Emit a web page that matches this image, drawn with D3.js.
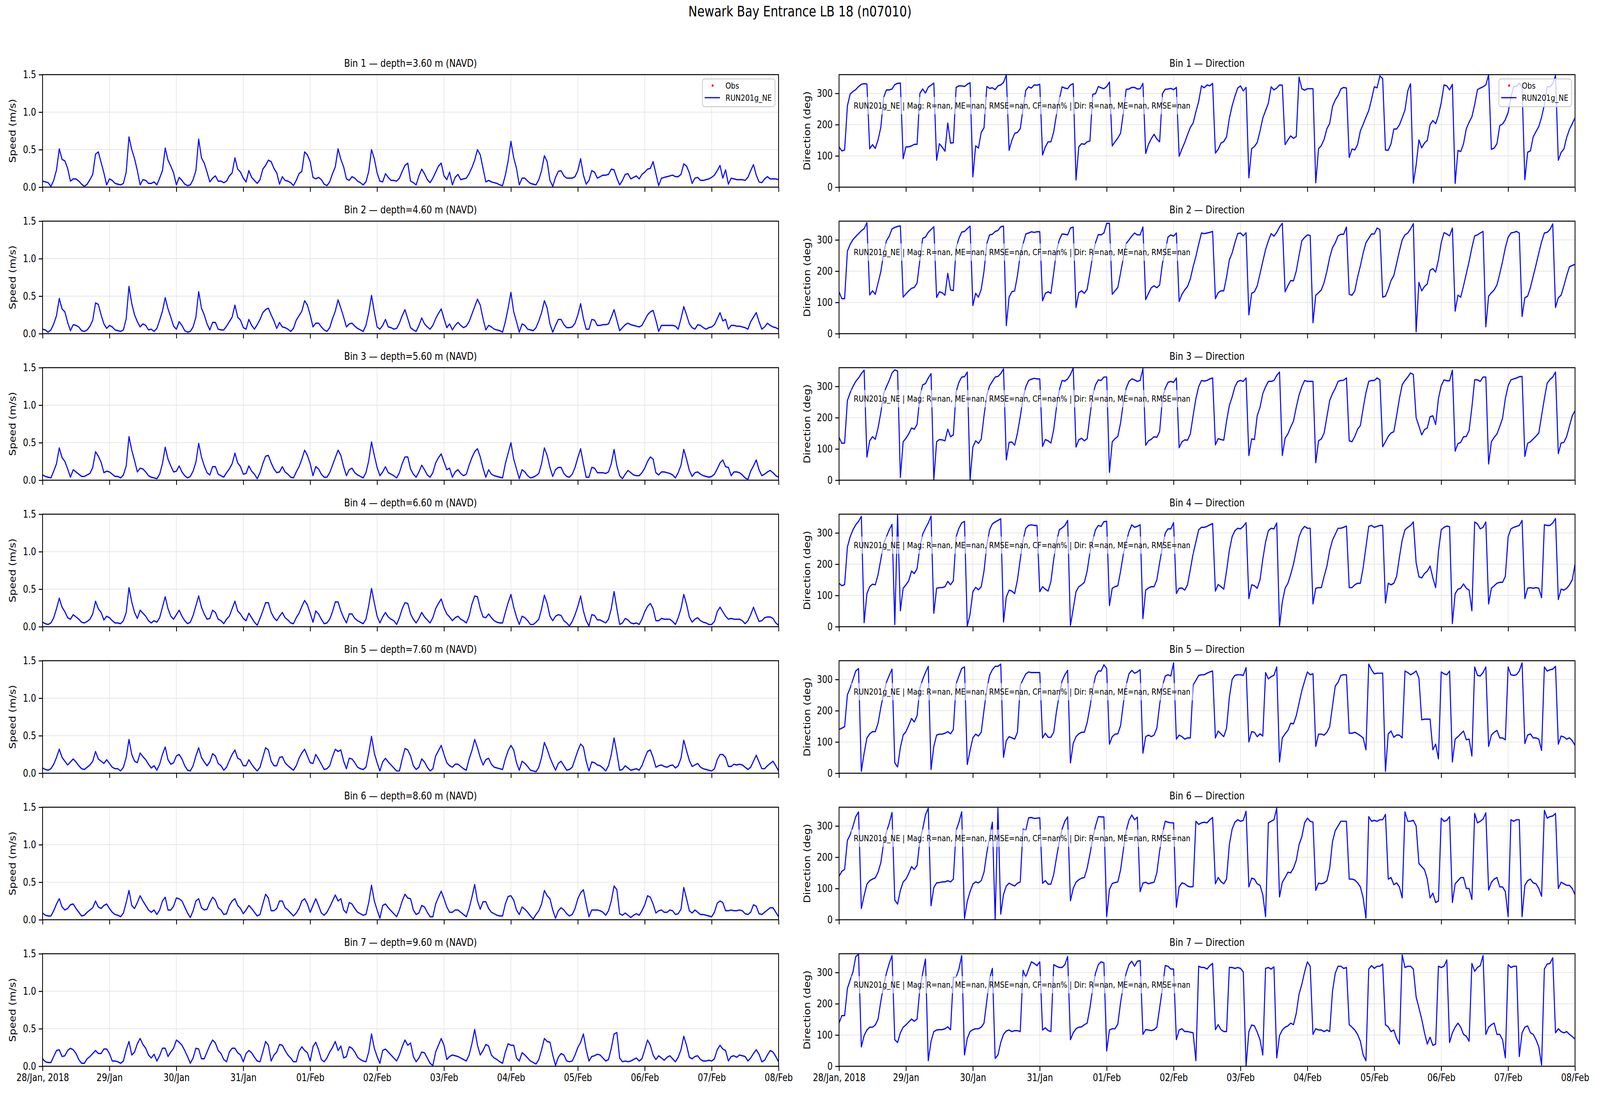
<!DOCTYPE html>
<html lang="en">
<head>
  <meta charset="UTF-8">
  <title>Newark Bay Entrance LB 18 (n07010)</title>
  <style>
    html, body { margin: 0; padding: 0; overflow: hidden; background: #fff; }
    svg { display: block; width: 100vw; height: 100vh; font-family: "DejaVu Sans", sans-serif; }
  </style>
</head>
<body>
  <script src="https://d3js.org/d3.v7.min.js"></script>
  <script>
    const width = 5000, height = 2800;
    const start = Date.UTC(2018, 0, 28);
    const hour = 3600 * 1000;

    const stationTitle = "Newark Bay Entrance LB 18 (n07010)";
    const modelName = "RUN201g_NE";
    const statsText = "RUN201g_NE | Mag: R=nan, ME=nan, RMSE=nan, CF=nan% | Dir: R=nan, ME=nan, RMSE=nan";
    const depths = ["3.60", "4.60", "5.60", "6.60", "7.60", "8.60", "9.60"];
    const dayLabels = ["28/Jan, 2018", "29/Jan", "30/Jan", "31/Jan", "01/Feb", "02/Feb",
                       "03/Feb", "04/Feb", "05/Feb", "06/Feb", "07/Feb", "08/Feb"];
    const speedTicks = [0, 0.5, 1.0, 1.5];
    const dirTicks = [0, 100, 200, 300];

    // hourly model speed (m/s), one line per day, from 28/Jan 00:00
    const spd1 = [
      0.08,0.07,0.06,0.01,0.09,0.23,0.51,0.37,0.35,0.25,0.08,0.11,0.11,0.08,0.04,0.01,0.04,0.10,0.17,0.44,0.47,0.33,0.19,0.03,
      0.11,0.09,0.05,0.04,0.03,0.05,0.20,0.67,0.50,0.38,0.22,0.03,0.10,0.09,0.05,0.05,0.07,0.03,0.12,0.22,0.52,0.36,0.28,0.19,
      0.03,0.13,0.09,0.04,0.02,0.03,0.10,0.22,0.64,0.39,0.32,0.20,0.07,0.12,0.15,0.08,0.08,0.06,0.08,0.15,0.19,0.39,0.24,0.20,
      0.12,0.07,0.22,0.13,0.09,0.05,0.10,0.24,0.29,0.36,0.34,0.25,0.19,0.04,0.14,0.09,0.08,0.06,0.02,0.09,0.18,0.21,0.47,0.43,
      0.34,0.13,0.11,0.13,0.10,0.04,0.02,0.07,0.18,0.27,0.51,0.37,0.27,0.11,0.09,0.14,0.12,0.08,0.06,0.03,0.07,0.21,0.50,0.38,
      0.19,0.08,0.07,0.18,0.13,0.09,0.09,0.08,0.12,0.21,0.29,0.32,0.08,0.06,0.03,0.15,0.24,0.18,0.10,0.06,0.12,0.20,0.28,0.32,
      0.15,0.10,0.20,0.03,0.13,0.17,0.10,0.11,0.12,0.18,0.26,0.36,0.50,0.43,0.25,0.07,0.09,0.07,0.06,0.05,0.03,0.02,0.16,0.35,
      0.61,0.39,0.25,0.03,0.12,0.12,0.08,0.05,0.04,0.03,0.10,0.22,0.42,0.34,0.09,0.01,0.13,0.21,0.22,0.15,0.12,0.12,0.12,0.14,
      0.22,0.38,0.16,0.04,0.09,0.22,0.20,0.12,0.14,0.16,0.16,0.17,0.24,0.23,0.12,0.03,0.09,0.17,0.18,0.11,0.13,0.15,0.11,0.17,
      0.20,0.24,0.25,0.34,0.18,0.02,0.12,0.13,0.14,0.15,0.16,0.14,0.14,0.17,0.31,0.28,0.19,0.05,0.12,0.13,0.09,0.09,0.10,0.11,
      0.13,0.16,0.22,0.29,0.12,0.23,0.04,0.12,0.11,0.10,0.10,0.10,0.09,0.13,0.22,0.30,0.16,0.07,0.06,0.11,0.14,0.11,0.11,0.11,
      0.10
    ];
    const spd2 = [
      0.06,0.05,0.02,0.05,0.13,0.24,0.47,0.33,0.29,0.15,0.04,0.12,0.11,0.09,0.04,0.03,0.05,0.10,0.18,0.41,0.39,0.25,0.13,0.07,
      0.11,0.09,0.05,0.04,0.03,0.05,0.20,0.63,0.40,0.25,0.16,0.09,0.13,0.11,0.05,0.06,0.03,0.07,0.18,0.30,0.48,0.33,0.22,0.10,
      0.06,0.16,0.11,0.04,0.02,0.03,0.09,0.22,0.56,0.34,0.25,0.13,0.05,0.15,0.15,0.06,0.05,0.05,0.10,0.16,0.22,0.38,0.22,0.18,
      0.08,0.06,0.19,0.11,0.06,0.12,0.19,0.28,0.32,0.34,0.25,0.17,0.07,0.15,0.09,0.08,0.06,0.03,0.07,0.18,0.24,0.30,0.44,0.38,
      0.25,0.09,0.14,0.14,0.09,0.05,0.03,0.08,0.20,0.30,0.45,0.34,0.22,0.09,0.13,0.14,0.10,0.07,0.05,0.03,0.11,0.28,0.51,0.29,
      0.09,0.06,0.11,0.19,0.09,0.08,0.06,0.07,0.14,0.24,0.32,0.20,0.08,0.05,0.03,0.11,0.21,0.13,0.09,0.06,0.11,0.20,0.27,0.33,
      0.20,0.08,0.13,0.05,0.11,0.15,0.11,0.08,0.10,0.16,0.26,0.36,0.46,0.38,0.20,0.05,0.11,0.09,0.06,0.05,0.04,0.02,0.16,0.34,
      0.55,0.29,0.16,0.02,0.13,0.11,0.06,0.05,0.04,0.08,0.17,0.28,0.44,0.34,0.13,0.02,0.11,0.19,0.19,0.12,0.08,0.08,0.09,0.14,
      0.25,0.40,0.20,0.06,0.06,0.19,0.18,0.11,0.11,0.12,0.12,0.13,0.22,0.32,0.18,0.04,0.08,0.12,0.14,0.12,0.11,0.10,0.09,0.11,
      0.18,0.25,0.29,0.31,0.18,0.03,0.11,0.11,0.11,0.11,0.11,0.10,0.06,0.20,0.36,0.25,0.13,0.08,0.06,0.12,0.11,0.08,0.06,0.08,
      0.09,0.12,0.20,0.28,0.17,0.19,0.06,0.11,0.11,0.10,0.10,0.09,0.08,0.06,0.16,0.22,0.28,0.16,0.06,0.09,0.14,0.11,0.09,0.08,
      0.06
    ];
    const spd3 = [
      0.07,0.05,0.04,0.03,0.12,0.22,0.43,0.30,0.25,0.15,0.04,0.14,0.11,0.08,0.05,0.05,0.07,0.09,0.17,0.38,0.32,0.24,0.10,0.12,
      0.11,0.08,0.05,0.05,0.03,0.07,0.19,0.58,0.40,0.26,0.11,0.16,0.15,0.11,0.06,0.04,0.03,0.02,0.08,0.22,0.44,0.28,0.19,0.11,
      0.12,0.19,0.11,0.06,0.03,0.05,0.12,0.24,0.49,0.31,0.19,0.10,0.07,0.18,0.18,0.08,0.06,0.04,0.10,0.15,0.22,0.36,0.23,0.18,
      0.08,0.09,0.19,0.12,0.08,0.02,0.10,0.22,0.32,0.33,0.23,0.15,0.10,0.11,0.18,0.11,0.08,0.04,0.03,0.11,0.18,0.28,0.40,0.33,
      0.22,0.06,0.18,0.15,0.08,0.04,0.04,0.10,0.20,0.30,0.40,0.33,0.18,0.06,0.14,0.16,0.10,0.07,0.05,0.03,0.10,0.26,0.51,0.33,
      0.17,0.06,0.11,0.18,0.10,0.08,0.06,0.03,0.10,0.22,0.31,0.31,0.15,0.08,0.04,0.11,0.20,0.14,0.07,0.04,0.10,0.23,0.30,0.35,
      0.24,0.14,0.16,0.04,0.11,0.14,0.09,0.06,0.08,0.20,0.30,0.38,0.42,0.31,0.16,0.04,0.14,0.08,0.06,0.05,0.04,0.03,0.22,0.36,
      0.50,0.28,0.15,0.02,0.14,0.11,0.06,0.03,0.04,0.06,0.09,0.22,0.43,0.33,0.17,0.05,0.14,0.17,0.17,0.09,0.05,0.04,0.08,0.17,
      0.30,0.42,0.22,0.04,0.04,0.17,0.16,0.10,0.10,0.10,0.09,0.11,0.22,0.41,0.19,0.06,0.02,0.08,0.13,0.10,0.07,0.06,0.06,0.10,
      0.16,0.25,0.31,0.28,0.10,0.07,0.11,0.11,0.10,0.09,0.07,0.03,0.10,0.20,0.41,0.28,0.13,0.05,0.10,0.11,0.08,0.06,0.05,0.04,
      0.05,0.08,0.15,0.23,0.27,0.18,0.17,0.06,0.11,0.11,0.10,0.07,0.03,0.01,0.12,0.19,0.27,0.14,0.06,0.08,0.11,0.13,0.10,0.06,
      0.04
    ];
    const spd4 = [
      0.06,0.04,0.03,0.05,0.12,0.24,0.38,0.26,0.20,0.12,0.10,0.16,0.13,0.10,0.06,0.05,0.07,0.10,0.17,0.34,0.24,0.19,0.09,0.14,
      0.12,0.08,0.05,0.05,0.04,0.08,0.19,0.52,0.33,0.19,0.11,0.22,0.18,0.14,0.08,0.05,0.08,0.06,0.12,0.26,0.40,0.24,0.14,0.10,
      0.16,0.22,0.14,0.08,0.04,0.06,0.15,0.28,0.41,0.26,0.17,0.10,0.11,0.22,0.19,0.10,0.08,0.04,0.10,0.14,0.24,0.34,0.21,0.17,
      0.11,0.08,0.18,0.12,0.06,0.02,0.11,0.21,0.32,0.32,0.19,0.12,0.08,0.14,0.19,0.12,0.09,0.05,0.04,0.12,0.18,0.27,0.35,0.29,
      0.18,0.06,0.21,0.17,0.10,0.04,0.05,0.10,0.20,0.33,0.33,0.21,0.12,0.05,0.17,0.17,0.11,0.08,0.06,0.04,0.10,0.28,0.51,0.32,
      0.14,0.05,0.13,0.19,0.13,0.10,0.08,0.03,0.12,0.24,0.32,0.31,0.17,0.10,0.05,0.11,0.19,0.13,0.09,0.05,0.12,0.24,0.31,0.37,
      0.25,0.17,0.13,0.08,0.12,0.14,0.10,0.08,0.05,0.14,0.30,0.41,0.40,0.24,0.13,0.12,0.17,0.12,0.08,0.06,0.05,0.05,0.19,0.32,
      0.43,0.26,0.13,0.03,0.14,0.12,0.08,0.03,0.03,0.06,0.10,0.24,0.42,0.31,0.14,0.08,0.14,0.16,0.15,0.08,0.05,0.01,0.07,0.16,
      0.27,0.41,0.21,0.08,0.01,0.16,0.15,0.09,0.09,0.07,0.05,0.10,0.24,0.47,0.24,0.03,0.05,0.11,0.09,0.05,0.04,0.05,0.03,0.10,
      0.20,0.27,0.31,0.24,0.08,0.08,0.11,0.10,0.10,0.10,0.07,0.03,0.12,0.24,0.43,0.30,0.13,0.06,0.10,0.12,0.08,0.06,0.05,0.03,
      0.03,0.07,0.20,0.26,0.20,0.14,0.10,0.11,0.10,0.10,0.10,0.08,0.04,0.08,0.16,0.26,0.16,0.07,0.08,0.12,0.13,0.13,0.11,0.05,
      0.02
    ];
    const spd5 = [
      0.07,0.05,0.04,0.06,0.12,0.21,0.32,0.21,0.16,0.11,0.15,0.19,0.15,0.10,0.06,0.05,0.08,0.11,0.16,0.29,0.19,0.16,0.13,0.18,
      0.13,0.08,0.06,0.06,0.03,0.08,0.21,0.45,0.25,0.16,0.14,0.27,0.22,0.18,0.12,0.07,0.10,0.04,0.12,0.25,0.35,0.18,0.12,0.14,
      0.23,0.25,0.19,0.10,0.04,0.03,0.10,0.23,0.34,0.21,0.15,0.10,0.15,0.26,0.23,0.13,0.10,0.04,0.08,0.17,0.25,0.31,0.20,0.18,
      0.10,0.10,0.18,0.12,0.07,0.03,0.08,0.21,0.34,0.31,0.16,0.10,0.10,0.21,0.22,0.14,0.10,0.07,0.04,0.10,0.20,0.27,0.32,0.23,
      0.14,0.13,0.25,0.19,0.12,0.05,0.06,0.10,0.22,0.32,0.29,0.31,0.16,0.06,0.20,0.19,0.14,0.08,0.06,0.05,0.08,0.27,0.49,0.27,
      0.14,0.03,0.15,0.20,0.15,0.11,0.07,0.03,0.03,0.19,0.33,0.31,0.23,0.10,0.05,0.08,0.19,0.15,0.08,0.03,0.06,0.23,0.30,0.37,
      0.25,0.14,0.10,0.08,0.12,0.12,0.09,0.06,0.04,0.19,0.30,0.45,0.34,0.21,0.11,0.18,0.20,0.12,0.08,0.07,0.06,0.05,0.19,0.30,
      0.37,0.31,0.14,0.04,0.16,0.13,0.09,0.04,0.03,0.02,0.08,0.21,0.41,0.32,0.21,0.12,0.04,0.13,0.16,0.10,0.04,0.05,0.08,0.19,
      0.30,0.39,0.35,0.16,0.03,0.15,0.14,0.11,0.10,0.07,0.03,0.10,0.25,0.47,0.27,0.04,0.05,0.10,0.07,0.04,0.05,0.06,0.04,0.10,
      0.20,0.29,0.31,0.21,0.08,0.10,0.11,0.09,0.08,0.10,0.11,0.07,0.10,0.20,0.44,0.30,0.17,0.09,0.11,0.13,0.08,0.06,0.05,0.04,
      0.03,0.06,0.18,0.25,0.25,0.21,0.09,0.09,0.12,0.11,0.12,0.11,0.08,0.05,0.08,0.16,0.24,0.15,0.06,0.06,0.10,0.13,0.16,0.10,
      0.03
    ];
    const spd6 = [
      0.09,0.06,0.05,0.05,0.12,0.21,0.28,0.17,0.13,0.15,0.20,0.21,0.15,0.10,0.05,0.06,0.10,0.13,0.16,0.25,0.17,0.15,0.19,0.21,
      0.15,0.10,0.07,0.06,0.04,0.09,0.23,0.39,0.19,0.15,0.23,0.32,0.25,0.19,0.13,0.10,0.13,0.07,0.13,0.25,0.30,0.13,0.13,0.18,
      0.29,0.28,0.25,0.17,0.09,0.03,0.12,0.25,0.28,0.16,0.13,0.14,0.23,0.30,0.26,0.16,0.13,0.07,0.08,0.19,0.25,0.28,0.19,0.15,
      0.08,0.13,0.19,0.15,0.10,0.05,0.07,0.21,0.34,0.29,0.12,0.12,0.15,0.25,0.25,0.16,0.13,0.09,0.05,0.09,0.15,0.25,0.28,0.21,
      0.10,0.19,0.28,0.19,0.09,0.06,0.10,0.17,0.25,0.33,0.25,0.28,0.13,0.09,0.23,0.21,0.15,0.10,0.08,0.06,0.07,0.23,0.46,0.25,
      0.13,0.02,0.19,0.21,0.16,0.12,0.08,0.04,0.13,0.25,0.34,0.29,0.28,0.13,0.07,0.09,0.19,0.17,0.10,0.04,0.04,0.21,0.30,0.38,
      0.28,0.17,0.10,0.10,0.13,0.13,0.10,0.07,0.04,0.15,0.30,0.47,0.25,0.14,0.24,0.24,0.15,0.10,0.08,0.06,0.05,0.05,0.21,0.31,
      0.32,0.26,0.13,0.07,0.17,0.14,0.10,0.05,0.01,0.07,0.12,0.21,0.39,0.32,0.28,0.13,0.02,0.12,0.16,0.13,0.08,0.05,0.07,0.15,
      0.28,0.36,0.40,0.21,0.04,0.13,0.13,0.13,0.12,0.10,0.06,0.12,0.25,0.45,0.40,0.08,0.06,0.09,0.06,0.03,0.06,0.08,0.06,0.12,
      0.20,0.32,0.30,0.21,0.09,0.12,0.13,0.10,0.10,0.13,0.12,0.07,0.08,0.14,0.43,0.28,0.12,0.09,0.13,0.10,0.07,0.07,0.06,0.05,
      0.04,0.10,0.22,0.25,0.23,0.12,0.12,0.13,0.12,0.12,0.13,0.12,0.08,0.07,0.10,0.20,0.18,0.08,0.07,0.10,0.13,0.16,0.16,0.10,
      0.04
    ];
    const spd7 = [
      0.10,0.06,0.05,0.05,0.13,0.21,0.22,0.13,0.14,0.21,0.24,0.22,0.17,0.09,0.04,0.04,0.10,0.13,0.17,0.21,0.17,0.17,0.23,0.23,
      0.17,0.07,0.07,0.06,0.04,0.07,0.22,0.33,0.15,0.19,0.30,0.37,0.29,0.24,0.15,0.11,0.16,0.07,0.14,0.24,0.24,0.13,0.19,0.24,
      0.35,0.32,0.28,0.21,0.13,0.04,0.11,0.24,0.23,0.10,0.10,0.19,0.28,0.35,0.31,0.21,0.17,0.09,0.06,0.19,0.24,0.24,0.18,0.15,
      0.06,0.17,0.21,0.18,0.12,0.07,0.06,0.19,0.33,0.28,0.07,0.15,0.19,0.29,0.28,0.21,0.15,0.11,0.06,0.06,0.20,0.26,0.21,0.18,
      0.07,0.26,0.32,0.22,0.09,0.06,0.11,0.19,0.25,0.33,0.21,0.27,0.11,0.13,0.26,0.24,0.19,0.12,0.09,0.07,0.06,0.19,0.43,0.24,
      0.13,0.04,0.21,0.23,0.19,0.15,0.11,0.07,0.15,0.26,0.35,0.28,0.31,0.13,0.06,0.11,0.19,0.18,0.11,0.04,0.01,0.19,0.28,0.37,
      0.28,0.09,0.13,0.15,0.14,0.13,0.11,0.09,0.07,0.15,0.30,0.49,0.28,0.15,0.21,0.29,0.27,0.15,0.11,0.09,0.06,0.04,0.19,0.30,
      0.28,0.28,0.11,0.07,0.18,0.15,0.11,0.07,0.05,0.03,0.09,0.22,0.37,0.33,0.32,0.15,0.01,0.12,0.17,0.15,0.07,0.06,0.07,0.15,
      0.25,0.32,0.43,0.22,0.07,0.13,0.14,0.16,0.15,0.11,0.07,0.09,0.24,0.43,0.45,0.11,0.06,0.07,0.06,0.07,0.09,0.11,0.07,0.10,
      0.22,0.35,0.28,0.15,0.09,0.14,0.11,0.08,0.12,0.14,0.10,0.06,0.12,0.22,0.40,0.28,0.12,0.10,0.13,0.14,0.09,0.07,0.07,0.08,
      0.07,0.10,0.22,0.28,0.23,0.21,0.07,0.13,0.14,0.12,0.15,0.14,0.13,0.07,0.11,0.17,0.22,0.16,0.06,0.08,0.15,0.21,0.19,0.13,
      0.06
    ];

    // hourly model direction (deg), one line per day
    const dir1 = [
      129,116,119,260,298,306,312,322,329,331,330,123,136,124,151,192,287,311,311,314,328,332,333,91,
      129,129,132,137,137,300,314,301,320,326,333,86,139,128,115,205,141,142,319,324,324,322,329,334,
      33,132,125,175,190,322,316,318,312,324,327,335,359,118,150,172,175,187,251,310,321,317,327,326,
      329,103,129,145,145,177,233,281,321,317,315,327,331,23,129,139,137,145,148,297,299,322,318,315,
      322,336,132,145,157,173,239,313,314,319,319,314,315,332,108,137,155,169,154,145,299,313,314,316,
      312,319,99,122,143,168,191,205,241,274,324,318,327,324,332,109,121,141,146,161,220,260,291,317,
      324,308,319,30,123,130,143,179,221,245,269,321,311,317,327,326,136,151,164,156,162,352,315,310,
      315,315,315,14,123,133,153,187,204,258,279,293,314,319,317,95,122,119,136,180,201,224,245,281,
      321,318,356,347,119,118,139,186,186,199,222,247,308,331,13,70,151,126,141,150,200,213,203,230,
      270,327,324,311,329,12,117,114,139,187,208,225,264,312,317,321,327,359,121,125,139,197,202,216,
      239,287,322,322,333,318,24,112,116,161,178,194,224,264,321,321,331,357,86,111,122,159,185,203,
      222
    ];
    const dir2 = [
      134,112,112,264,286,301,311,320,329,336,355,124,137,126,162,199,258,297,312,335,340,343,345,117,
      127,137,145,148,162,236,305,309,324,333,342,116,134,131,123,193,140,138,275,305,325,327,336,344,
      90,129,117,142,200,288,316,318,327,330,342,344,26,117,134,137,186,253,287,319,322,326,324,326,
      326,105,129,134,129,195,265,300,319,318,316,338,341,84,131,137,129,142,195,250,291,317,316,322,
      353,353,126,137,148,195,244,288,300,312,322,316,316,341,109,129,147,153,147,156,225,264,309,316,
      312,322,103,126,140,151,175,214,247,286,322,320,322,324,327,112,131,137,137,181,236,258,291,320,
      322,313,323,60,129,134,153,192,231,269,297,320,312,324,341,353,134,153,170,169,200,250,297,308,
      316,314,35,123,131,140,164,200,244,275,291,313,318,318,341,126,123,137,181,217,258,291,305,319,
      319,338,333,117,120,142,170,186,225,264,300,316,322,335,352,6,164,137,151,159,203,208,197,236,
      291,323,319,313,338,72,123,117,153,192,231,275,313,316,322,327,22,120,131,140,156,192,231,275,
      308,322,324,327,322,55,115,120,148,184,220,258,294,322,324,333,351,84,115,123,153,186,214,218,
      222
    ];
    const dir3 = [
      137,118,119,255,280,300,316,327,341,352,74,126,139,131,167,217,277,299,319,343,353,349,9,123,
      134,148,167,163,179,269,305,309,327,341,1,123,130,129,126,163,139,145,283,313,330,331,346,1,
      106,126,118,131,206,272,302,316,330,332,341,356,65,121,122,112,151,203,261,299,319,323,326,324,
      324,108,130,126,119,162,233,288,319,317,324,338,359,106,129,134,126,133,206,272,305,321,319,330,
      330,25,123,133,140,184,250,294,316,324,321,316,319,357,112,126,131,139,137,156,261,294,313,316,
      313,327,104,123,129,128,148,206,261,299,319,317,319,324,327,113,133,130,128,189,239,266,299,316,
      319,316,327,79,132,130,206,233,277,299,316,316,319,335,346,79,134,148,170,189,233,272,299,319,
      316,316,316,56,126,132,151,203,255,277,294,316,319,320,327,126,123,140,163,175,230,280,316,319,
      319,327,321,107,123,140,151,155,206,261,305,319,330,343,338,200,173,145,162,167,203,206,178,261,
      302,321,318,318,352,93,117,121,139,140,159,233,321,321,316,330,330,52,123,137,148,172,198,261,
      302,321,324,327,331,332,76,118,123,132,141,151,206,261,310,322,330,346,85,119,121,140,173,206,
      222
    ];
    const dir4 = [
      139,131,135,255,288,310,326,337,353,13,106,128,136,134,167,216,266,288,310,327,7,359,51,123,
      134,147,178,170,186,255,296,315,332,354,43,123,125,125,128,145,134,147,288,315,332,337,2,40,
      112,126,118,128,178,261,310,329,335,340,345,15,95,117,114,106,150,216,277,315,324,326,324,324,
      112,128,120,114,145,216,271,310,316,324,340,4,57,112,128,134,142,178,238,277,310,324,321,336,
      337,68,123,128,131,178,233,271,304,326,318,321,326,26,117,124,128,128,150,205,255,299,313,313,
      333,106,123,124,117,134,183,233,271,310,318,318,321,326,330,114,135,128,120,178,244,288,307,315,
      313,321,333,90,134,131,123,150,216,271,307,315,313,332,2,79,123,139,167,200,244,288,310,321,
      315,315,73,123,125,125,161,194,244,277,296,315,315,318,322,125,125,134,139,139,189,255,321,324,
      318,321,324,324,76,139,134,139,161,222,277,310,318,324,335,205,160,156,170,178,194,156,125,240,
      310,318,322,320,10,106,120,123,137,123,117,51,335,329,313,318,335,73,123,131,139,142,142,161,
      288,313,318,321,324,340,90,123,125,123,125,123,93,326,324,324,332,346,87,120,117,123,134,150,
      200
    ];
    const dir5 = [
      140,144,149,251,273,300,327,335,6,64,113,126,133,133,160,211,255,291,313,333,33,20,82,122,
      133,153,175,164,184,273,300,322,342,12,86,122,125,125,128,133,126,140,286,311,335,340,28,73,
      113,125,119,131,202,269,313,331,342,342,349,51,104,117,113,109,131,282,300,318,324,322,322,322,
      322,113,128,115,115,131,198,251,295,315,329,33,95,117,126,131,131,162,211,269,311,327,327,347,
      335,93,117,125,126,153,224,282,318,329,320,324,331,64,117,122,117,122,144,220,278,311,315,311,
      353,109,122,117,109,113,113,282,297,313,315,315,320,324,327,113,135,126,117,144,242,300,313,315,
      315,313,338,100,133,131,117,126,119,322,302,309,313,340,36,113,126,137,160,158,184,224,264,295,
      324,315,318,86,125,125,122,131,149,215,279,291,313,315,315,128,128,131,126,120,113,75,349,331,
      318,320,320,320,6,126,135,115,122,122,113,327,322,315,320,327,304,171,173,173,173,75,93,46,
      324,318,315,327,36,109,117,126,135,107,109,55,340,313,311,322,340,86,122,131,137,113,113,107,
      340,315,313,315,327,353,95,122,126,113,113,109,73,340,327,331,333,342,93,119,116,109,113,104,
      89
    ];
    const dir6 = [
      139,155,161,254,272,299,330,345,36,77,114,125,130,134,152,183,246,281,308,343,63,50,94,121,
      130,148,170,161,174,254,290,335,357,45,103,118,119,121,121,125,121,130,286,312,345,4,59,90,
      114,121,118,125,152,214,263,312,1,357,18,81,108,117,112,108,117,121,290,286,326,327,324,325,
      326,117,125,114,114,145,199,251,290,315,329,61,100,120,128,133,135,165,210,260,300,330,329,329,
      10,97,116,119,121,160,225,285,318,335,320,328,90,117,120,115,118,120,150,220,275,315,312,310,
      310,40,105,118,115,108,105,106,315,305,310,312,310,320,327,115,135,122,115,130,240,290,312,320,
      315,318,347,105,133,130,115,110,80,10,310,315,320,357,73,120,135,152,150,165,190,240,265,310,
      325,315,312,94,117,115,118,125,165,250,285,300,315,315,315,130,130,127,118,105,70,5,330,315,
      318,315,320,320,337,130,135,112,118,105,70,345,315,315,318,300,180,170,160,130,70,85,55,60,
      325,315,318,330,55,115,125,135,135,100,100,65,340,310,315,322,342,95,120,130,135,105,105,90,
      10,320,315,320,320,10,110,125,130,118,115,100,75,350,325,330,332,340,100,120,115,110,110,100,
      80
    ];
    const dir7 = [
      138,162,162,249,276,302,351,358,62,98,116,125,125,132,151,209,258,298,329,354,85,76,107,125,
      132,142,151,144,151,249,298,343,18,80,111,116,117,117,120,126,117,285,285,311,354,36,89,111,
      117,120,120,125,138,209,280,313,25,36,76,102,113,116,111,114,114,111,307,285,311,334,329,322,
      334,116,123,114,111,325,320,316,316,325,351,85,107,120,125,126,133,138,187,249,298,325,334,331,
      49,116,120,120,135,205,258,298,325,336,320,336,338,102,117,116,114,117,125,187,249,322,320,311,
      311,85,116,120,111,111,109,107,18,320,316,316,311,322,329,117,133,117,111,111,316,316,313,316,
      313,302,0,111,132,129,109,85,36,313,316,311,318,27,98,116,125,129,138,133,169,231,262,302,
      334,320,102,120,116,116,111,116,111,240,298,320,320,313,316,133,125,116,102,80,36,18,311,322,
      313,320,320,327,133,126,111,116,89,71,356,316,320,320,311,222,187,151,107,71,93,67,71,320,
      316,320,340,76,107,125,138,125,102,96,80,329,304,316,322,354,102,125,133,138,102,102,85,27,
      325,316,320,320,31,107,125,129,107,102,85,62,4,311,327,329,347,107,120,111,107,111,102,95,
      87
    ];

    const speedSeries = [spd1, spd2, spd3, spd4, spd5, spd6, spd7];
    const dirSeries = [dir1, dir2, dir3, dir4, dir5, dir6, dir7];

    // layout (pixels)
    const panelW = 2300, panelH = 288, firstTop = 191, rowStep = 375;
    const columns = [
      { left: 133, max: 1.5, ticks: speedTicks, fmt: d3.format(".1f"), ylabel: "Speed (m/s)", labelX: 40 },
      { left: 2622, max: 360, ticks: dirTicks, fmt: d3.format("d"), ylabel: "Direction (deg)", labelX: 2522 }
    ];

    // the drawing is laid out on a 5000x2800 canvas and scaled to the window
    const svg = d3.select("body").append("svg")
      .attr("viewBox", `0 0 ${width} ${height}`)
      .attr("preserveAspectRatio", "none");
    svg.append("rect").attr("width", width).attr("height", height).attr("fill", "#fff");

    svg.append("text")
      .attr("x", width / 2).attr("y", 42)
      .attr("text-anchor", "middle")
      .attr("font-size", 37)
      .text(stationTitle);

    const x = d3.scaleUtc()
      .domain([start, start + 264 * hour])
      .range([0, panelW]);
    const days = d3.utcDay.range(start, start + 265 * hour);

    function drawPanel(col, row, values) {
      const c = columns[col];
      const y = d3.scaleLinear().domain([0, c.max]).range([panelH, 0]);
      const g = svg.append("g")
        .attr("transform", `translate(${c.left},${firstTop + row * rowStep})`);

      // grid
      g.append("g").selectAll("line").data(days).join("line")
        .attr("x1", d => x(d)).attr("x2", d => x(d))
        .attr("y1", 0).attr("y2", panelH)
        .attr("stroke", "#e6e6e6").attr("stroke-width", 2);
      g.append("g").selectAll("line").data(c.ticks).join("line")
        .attr("x1", 0).attr("x2", panelW)
        .attr("y1", d => y(d)).attr("y2", d => y(d))
        .attr("stroke", "#e6e6e6").attr("stroke-width", 2);

      const clipId = `clip-${col}-${row}`;
      g.append("clipPath").attr("id", clipId)
        .append("rect").attr("width", panelW).attr("height", panelH);

      const line = d3.line()
        .x((d, i) => x(start + i * hour))
        .y(d => y(d));

      g.append("path")
        .datum(values)
        .attr("clip-path", `url(#${clipId})`)
        .attr("fill", "none")
        .attr("stroke", "#0000ff")
        .attr("stroke-width", 3.2)
        .attr("stroke-linejoin", "round")
        .attr("d", line);

      // stats box on direction panels
      if (col === 1) {
        const ann = g.append("g");
        const txt = ann.append("text")
          .attr("x", 46).attr("y", 87)
          .attr("font-size", 22)
          .text(statsText);
        const bb = txt.node().getBBox();
        ann.insert("rect", "text")
          .attr("x", bb.x - 8).attr("y", bb.y - 9)
          .attr("width", bb.width + 16).attr("height", bb.height + 18)
          .attr("fill", "#fff").attr("fill-opacity", 0.6);
      }

      // spines
      g.append("rect")
        .attr("width", panelW).attr("height", panelH)
        .attr("fill", "none").attr("stroke", "#000").attr("stroke-width", 2.5);

      const xAxis = g.append("g")
        .attr("transform", `translate(0,${panelH})`)
        .call(d3.axisBottom(x).tickValues(days).tickSize(12).tickPadding(8)
          .tickFormat((d, i) => row === 6 ? dayLabels[i] : ""));
      const yAxis = g.append("g")
        .call(d3.axisLeft(y).tickValues(c.ticks).tickSize(12).tickPadding(8).tickFormat(c.fmt));
      [xAxis, yAxis].forEach(a => {
        a.select(".domain").remove();
        a.selectAll(".tick line").attr("stroke", "#000").attr("stroke-width", 2.5);
        a.selectAll(".tick text").attr("fill", "#000")
          .attr("font-size", 26).attr("font-family", "DejaVu Sans, sans-serif");
      });

      g.append("text")
        .attr("x", panelW / 2).attr("y", -20)
        .attr("text-anchor", "middle")
        .attr("font-size", 27)
        .text(col === 0 ? `Bin ${row + 1} — depth=${depths[row]} m (NAVD)` : `Bin ${row + 1} — Direction`);

      g.append("text")
        .attr("transform", `translate(${c.labelX - c.left},${panelH / 2}) rotate(-90)`)
        .attr("text-anchor", "middle")
        .attr("dominant-baseline", "central")
        .attr("font-size", 27)
        .text(c.ylabel);

      if (row === 0) {
        const lx = panelW - 11 - 227;
        const lg = g.append("g").attr("transform", `translate(${lx},11)`);
        lg.append("rect")
          .attr("width", 227).attr("height", 71).attr("rx", 7)
          .attr("fill", "#fff").attr("fill-opacity", 0.8)
          .attr("stroke", "#cccccc").attr("stroke-width", 2.5);
        lg.append("circle").attr("cx", 32).attr("cy", 17).attr("r", 3).attr("fill", "red");
        lg.append("line").attr("x1", 7).attr("x2", 55).attr("y1", 48).attr("y2", 48)
          .attr("stroke", "#0000ff").attr("stroke-width", 3.2);
        lg.append("text").attr("x", 72).attr("y", 17).attr("dominant-baseline", "central")
          .attr("font-size", 22).text("Obs");
        lg.append("text").attr("x", 72).attr("y", 48).attr("dominant-baseline", "central")
          .attr("font-size", 22).text(modelName);
      }
    }

    speedSeries.forEach((vals, i) => drawPanel(0, i, vals));
    dirSeries.forEach((vals, i) => drawPanel(1, i, vals));
  </script>
</body>
</html>
